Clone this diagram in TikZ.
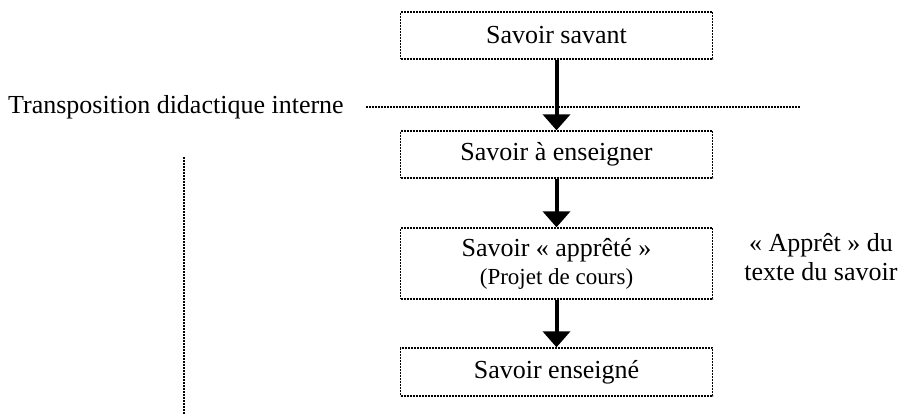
\documentclass[tikz,border=0pt]{standalone}
\usepackage{fontspec}
\setmainfont{Liberation Serif}
\usetikzlibrary{arrows.meta}
\begin{document}
\begin{tikzpicture}[x=1pt,y=-1pt,
  dotline/.style={line width=1.4pt,dash pattern=on 2pt off 1pt},
  box/.style={draw,dotline,minimum width=312pt,inner sep=0pt,font=\fontsize{26}{30}\selectfont},
  flow/.style={line width=4pt,-{Triangle[width=27pt,length=16pt]}}]
\useasboundingbox (0,0) rectangle (915,414);
\node[box,minimum height=47pt] (b1) at (556.5,35.5) {Savoir savant};
\node[box,minimum height=47pt] (b2) at (556.5,154.5) {Savoir à enseigner};
\node[box,minimum height=71pt,align=center] (b3) at (556.5,263.5) {Savoir « apprêté »\\[-2pt]{\fontsize{23}{27}\selectfont (Projet de cours)}};
\node[box,minimum height=48pt] (b4) at (556.5,372) {Savoir enseigné};
\node[anchor=west,inner sep=0pt,font=\fontsize{26}{30}\selectfont] (t) at (8,107) {Transposition didactique interne};
\coordinate (l1) at (366,107);
\coordinate (l2) at (800,107);
\draw[dotline] (l1) -- (l2);
\coordinate (v1) at (184,157);
\coordinate (v2) at (184,414);
\draw[dotline] (v1) -- (v2);
\node[align=center,inner sep=0pt,font=\fontsize{26}{29}\selectfont] (r) at (821,257) {« Apprêt » du\\texte du savoir};
\draw[flow] (b1.south) -- (b2.north);
\draw[flow] (b2.south) -- (b3.north);
\draw[flow] (b3.south) -- (b4.north);
\end{tikzpicture}
\end{document}
